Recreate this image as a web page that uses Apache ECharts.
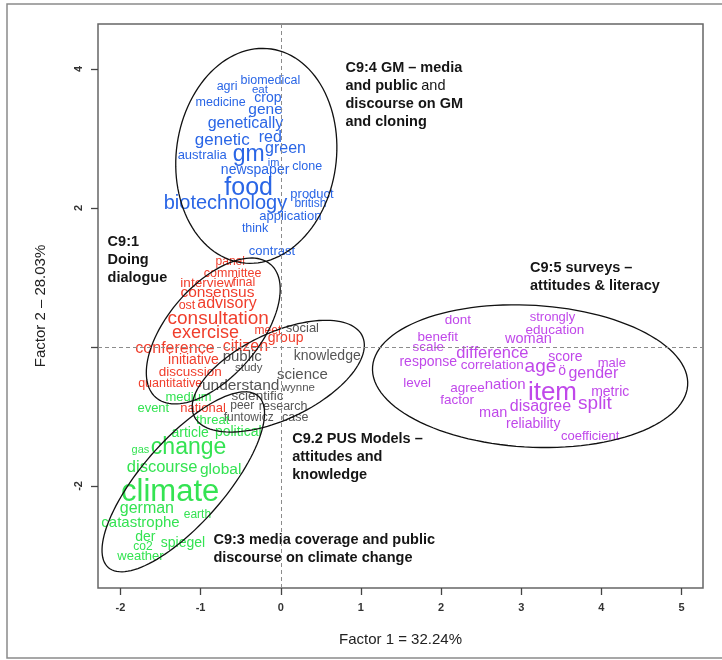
<!DOCTYPE html>
<html>
<head>
<meta charset="utf-8">
<script src="https://cdn.jsdelivr.net/npm/echarts@6/dist/echarts.min.js"></script>
<style>
  html, body { margin: 0; padding: 0; background: #fff; }
  #chart { width: 722px; height: 660px; }
</style>
</head>
<body>
<div id="chart"></div>
<script>
// word, factor 1, factor 2, weight (shown as font size)
const gmWords = [
  ['agri', -0.67, 3.74, 12.5], ['biomedical', -0.13, 3.84, 12.5], ['eat', -0.26, 3.70, 11.5],
  ['crop', -0.16, 3.58, 14], ['medicine', -0.75, 3.51, 12.5], ['gene', -0.19, 3.41, 15.5],
  ['genetically', -0.44, 3.22, 16], ['genetic', -0.73, 2.98, 17], ['red', -0.13, 3.01, 16],
  ['green', 0.06, 2.86, 16], ['australia', -0.98, 2.76, 13], ['gm', -0.40, 2.76, 23],
  ['im', -0.09, 2.65, 11], ['newspaper', -0.32, 2.55, 14], ['clone', 0.33, 2.59, 12.5],
  ['food', -0.40, 2.29, 25], ['biotechnology', -0.69, 2.07, 20], ['product', 0.39, 2.20, 13],
  ['british', 0.37, 2.06, 12], ['application', 0.12, 1.88, 13], ['think', -0.32, 1.71, 12.5],
  ['contrast', -0.11, 1.37, 13]
];
const dialogueWords = [
  ['panel', -0.63, 1.22, 12], ['committee', -0.60, 1.06, 12.5], ['interview', -0.92, 0.92, 13.5],
  ['final', -0.46, 0.92, 12.5], ['consensus', -0.79, 0.78, 15.5], ['ost', -1.17, 0.59, 12.5],
  ['advisory', -0.67, 0.62, 16], ['consultation', -0.78, 0.40, 19], ['meet', -0.16, 0.24, 12],
  ['exercise', -0.94, 0.20, 18], ['group', 0.06, 0.13, 14], ['conference', -1.32, -0.03, 16],
  ['citizen', -0.44, 0.00, 16], ['initiative', -1.09, -0.19, 14], ['discussion', -1.13, -0.37, 13.5],
  ['quantitative', -1.38, -0.53, 12.5], ['national', -0.97, -0.89, 13]
];
const pusWords = [
  ['social', 0.27, 0.27, 13], ['public', -0.48, -0.14, 15], ['knowledge', 0.58, -0.13, 14],
  ['study', -0.40, -0.30, 11.5], ['science', 0.27, -0.40, 15], ['understand', -0.50, -0.56, 15.5],
  ['wynne', 0.22, -0.59, 11.5], ['scientific', -0.29, -0.71, 13.5], ['peer', -0.48, -0.85, 12],
  ['research', 0.03, -0.86, 12.5], ['funtowicz', -0.40, -1.02, 12], ['case', 0.18, -1.02, 12.5]
];
const climateWords = [
  ['medium', -1.15, -0.72, 13], ['event', -1.59, -0.88, 13], ['threat', -0.85, -1.05, 13],
  ['article', -1.13, -1.24, 14], ['political', -0.53, -1.22, 14], ['gas', -1.75, -1.48, 11],
  ['change', -1.15, -1.45, 23], ['discourse', -1.48, -1.73, 16.5], ['global', -0.75, -1.77, 15.5],
  ['climate', -1.38, -2.09, 31], ['german', -1.67, -2.32, 16], ['earth', -1.04, -2.42, 12],
  ['catastrophe', -1.75, -2.53, 15], ['der', -1.69, -2.73, 14], ['spiegel', -1.22, -2.82, 14],
  ['co2', -1.72, -2.88, 12], ['weather', -1.75, -3.02, 13]
];
const surveyWords = [
  ['dont', 2.21, 0.39, 13.5], ['strongly', 3.39, 0.42, 13], ['education', 3.42, 0.24, 13.5],
  ['benefit', 1.96, 0.14, 13.5], ['woman', 3.09, 0.12, 14.5], ['scale', 1.84, -0.01, 13.5],
  ['difference', 2.64, -0.09, 16.5], ['score', 3.55, -0.14, 14], ['response', 1.84, -0.22, 14],
  ['correlation', 2.64, -0.26, 13.5], ['age', 3.24, -0.29, 19], ['ö', 3.51, -0.35, 14],
  ['male', 4.13, -0.24, 13], ['gender', 3.90, -0.39, 16], ['level', 1.70, -0.52, 13.5],
  ['agree', 2.33, -0.59, 13.5], ['nation', 2.80, -0.55, 15], ['item', 3.39, -0.66, 26],
  ['metric', 4.11, -0.65, 14], ['factor', 2.20, -0.76, 13.5], ['split', 3.92, -0.81, 19],
  ['man', 2.65, -0.95, 14.5], ['disagree', 3.24, -0.86, 16], ['reliability', 3.15, -1.11, 14],
  ['coefficient', 3.86, -1.28, 13]
];

// cluster ellipses: centre x, centre y, semi-axis a, semi-axis b, angle (deg)
const ellipses = [
  [-0.305, 2.75, 1.55, 1.0, 85],
  [-0.842, 0.23, 1.2, 0.6, 56],
  [-0.031, -0.42, 1.2, 0.6, 31],
  [-1.216, -1.94, 1.55, 0.55, 54],
  [3.111, -0.42, 1.97, 1.02, -4]
];

// cluster captions, anchored at their top-left corner
const captions = [
  ['{b|C9:4 GM – media}\n{b|and public} {n|and}\n{b|discourse on GM}\n{b|and cloning}', 0.807, 4.14],
  ['{b|C9:5 surveys –}\n{b|attitudes & literacy}', 3.11, 1.27],
  ['{b|C9:1}\n{b|Doing}\n{b|dialogue}', -2.16, 1.64],
  ['{b|C9.2 PUS Models –}\n{b|attitudes and}\n{b|knowledge}', 0.143, -1.19],
  ['{b|C9:3 media coverage and public}\n{b|discourse on climate change}', -0.84, -2.65]
];

const xTicks = [-2, -1, 0, 1, 2, 3, 4, 5];
const yTicks = [-2, 0, 2, 4];
const yTickLabels = [-2, 2, 4];

const FONT = "'Liberation Sans', Arial, Helvetica, sans-serif";

const chart = echarts.init(document.getElementById('chart'));

function wordSeries(words, color) {
  return {
    type: 'custom',
    silent: true,
    z: 2,
    data: words.map((d) => [d[1], d[2], d[3]]),
    encode: { x: 0, y: 1 },
    renderItem: (params, api) => {
      const p = api.coord([api.value(0), api.value(1)]);
      return {
        type: 'text',
        x: p[0],
        y: p[1],
        style: {
          text: words[params.dataIndex][0],
          fontSize: api.value(2),
          fontFamily: FONT,
          fill: color,
          align: 'center',
          verticalAlign: 'middle'
        }
      };
    }
  };
}

const ellipseSeries = {
  type: 'custom',
  silent: true,
  z: 3,
  data: ellipses,
  encode: { x: 0, y: 1 },
  renderItem: (params, api) => {
    const cx = api.value(0), cy = api.value(1);
    const a = api.value(2), b = api.value(3);
    const th = api.value(4) * Math.PI / 180;
    const pts = [];
    for (let i = 0; i < 120; i++) {
      const t = i / 120 * Math.PI * 2;
      const ex = a * Math.cos(t), ey = b * Math.sin(t);
      pts.push(api.coord([
        cx + ex * Math.cos(th) - ey * Math.sin(th),
        cy + ex * Math.sin(th) + ey * Math.cos(th)
      ]));
    }
    return {
      type: 'polygon',
      shape: { points: pts },
      style: { fill: 'none', stroke: '#111', lineWidth: 1.3 }
    };
  }
};

const captionSeries = {
  type: 'custom',
  silent: true,
  z: 4,
  data: captions.map((c) => [c[1], c[2]]),
  encode: { x: 0, y: 1 },
  renderItem: (params, api) => {
    const p = api.coord([api.value(0), api.value(1)]);
    return {
      type: 'text',
      x: p[0],
      y: p[1],
      style: {
        text: captions[params.dataIndex][0],
        fill: '#151515',
        align: 'left',
        verticalAlign: 'top',
        rich: {
          b: { fontFamily: FONT, fontSize: 14.5, fontWeight: 'bold', lineHeight: 18, fill: '#151515' },
          n: { fontFamily: FONT, fontSize: 14.5, fontWeight: 'normal', lineHeight: 18, fill: '#151515' }
        }
      }
    };
  }
};

const option = {
  animation: false,
  grid: {
    left: 98, top: 24, right: 19, bottom: 72,
    show: true, borderColor: '#666', borderWidth: 1.5, backgroundColor: 'transparent'
  },
  graphic: [{
    type: 'rect',
    shape: { x: 7, y: 4, width: 740, height: 654 },
    style: { fill: 'none', stroke: '#8a8a8a', lineWidth: 1.5 },
    silent: true
  }],
  xAxis: {
    type: 'value',
    min: -2.28,
    max: 5.268,
    name: 'Factor 1 = 32.24%',
    nameLocation: 'middle',
    nameGap: 44,
    nameTextStyle: { fontFamily: FONT, fontSize: 15, color: '#222' },
    axisLine: { show: false, onZero: false },
    splitLine: { show: false },
    axisTick: { show: true, length: 7, customValues: xTicks, lineStyle: { color: '#444', width: 1.3 } },
    axisLabel: {
      customValues: xTicks, margin: 14,
      fontFamily: FONT, fontSize: 11, fontWeight: 'bold', color: '#333'
    }
  },
  yAxis: {
    type: 'value',
    min: -3.468,
    max: 4.647,
    name: 'Factor 2 – 28.03%',
    nameLocation: 'middle',
    nameGap: 50,
    nameRotate: 90,
    nameTextStyle: { fontFamily: FONT, fontSize: 15, color: '#222' },
    axisLine: { show: false, onZero: false },
    splitLine: { show: false },
    axisTick: { show: true, length: 7, customValues: yTicks, lineStyle: { color: '#444', width: 1.3 } },
    axisLabel: {
      customValues: yTickLabels, margin: 14, rotate: 90,
      fontFamily: FONT, fontSize: 11, fontWeight: 'bold', color: '#333'
    }
  },
  series: [
    Object.assign(wordSeries(gmWords, '#2a66e6'), {
      markLine: {
        silent: true,
        symbol: ['none', 'none'],
        label: { show: false },
        lineStyle: { type: [4, 3], color: '#8c8c8c', width: 1 },
        data: [{ xAxis: 0 }, { yAxis: 0 }]
      }
    }),
    wordSeries(dialogueWords, '#f03e2c'),
    wordSeries(pusWords, '#555555'),
    wordSeries(climateWords, '#34e352'),
    wordSeries(surveyWords, '#c048ea'),
    ellipseSeries,
    captionSeries
  ]
};

chart.setOption(option);
</script>
</body>
</html>
